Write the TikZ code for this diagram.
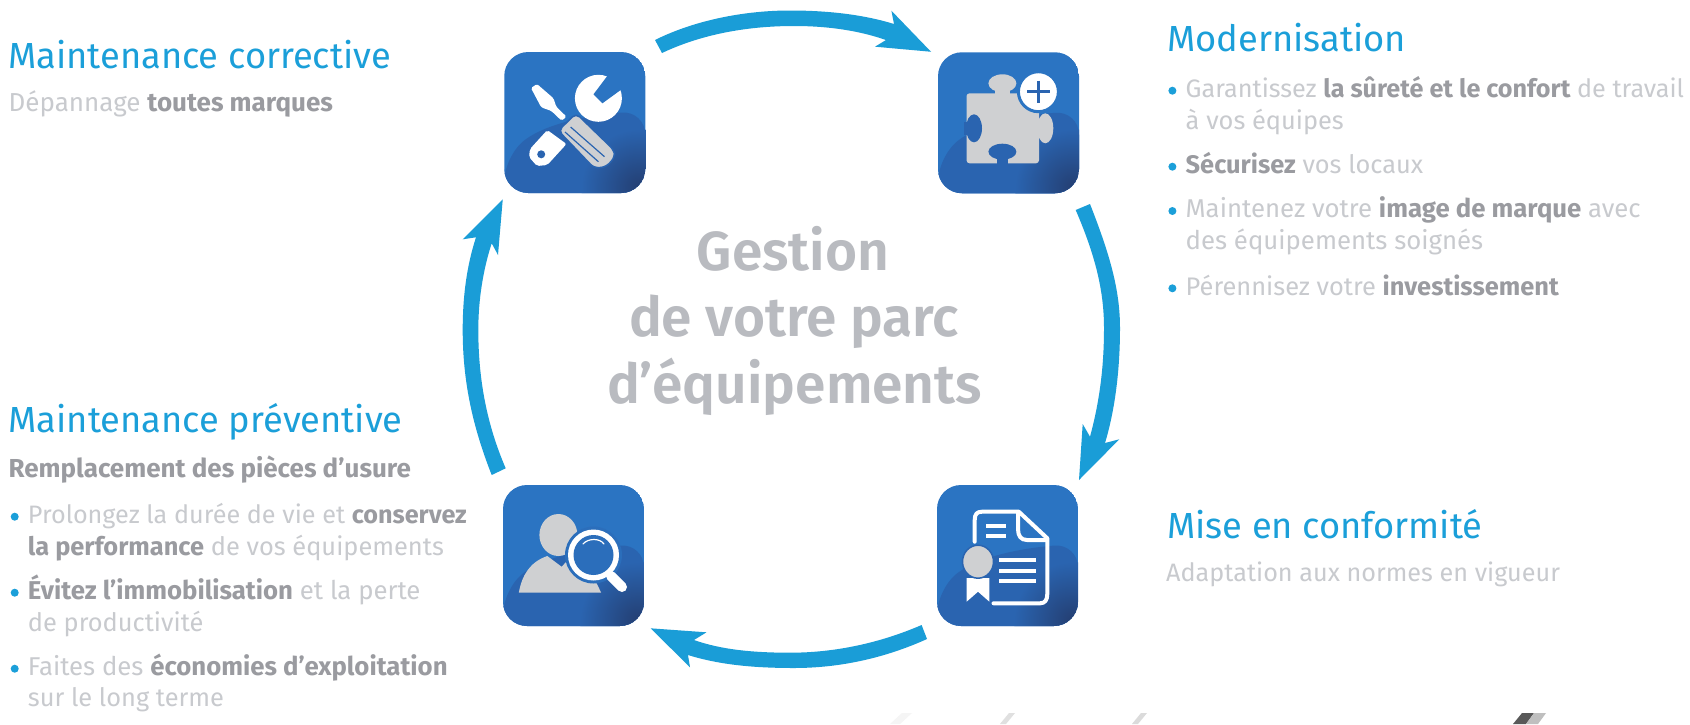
\documentclass[tikz,border=0pt]{standalone}
\usepackage{fontspec}
\setmainfont{Fira Sans}
\newfontfamily\centerfont{Fira Sans SemiBold}
\usetikzlibrary{calc}
\definecolor{cyanT}{HTML}{1B9FD9}
\definecolor{arrowC}{HTML}{1A9DD7}
\definecolor{lightT}{HTML}{C8CACE}
\definecolor{boldT}{HTML}{9A9BA0}
\definecolor{centerT}{HTML}{B9BBC0}
\definecolor{boxTop}{HTML}{2B74C2}
\definecolor{boxLow}{HTML}{2A64B0}
\definecolor{boxDark}{HTML}{243F73}
\definecolor{puzzleG}{HTML}{CFD0D2}
\newcommand{\LT}[1]{{\color{lightT}#1}}
\newcommand{\BT}[1]{{\color{boldT}\bfseries #1}}
\tikzset{
  iconbox/.style={rectangle,rounded corners=24pt,minimum width=141pt,minimum height=141pt,inner sep=0pt,
    path picture={
      \fill[boxTop] (path picture bounding box.south west) rectangle (path picture bounding box.north east);
      \fill[boxLow] ([shift={(0,35)}]path picture bounding box.west)
        .. controls +(35,-30) and +(-70,6) .. ([shift={(0,-12)}]path picture bounding box.east)
        -- (path picture bounding box.south east) -- (path picture bounding box.south west) -- cycle;
      \shade[inner color=boxDark,outer color=boxLow] (path picture bounding box.south east) ++(-6,-6) circle[radius=58pt];
    }},
  arrowfill/.style={fill=arrowC,draw=none},
  title/.style={anchor=base west,inner sep=0pt,text=cyanT,font=\fontsize{36.3}{40}\selectfont},
  body/.style={anchor=base west,inner sep=0pt,text=lightT,font=\fontsize{25.4}{30}\selectfont},
  bodyb/.style={anchor=base west,inner sep=0pt,text=lightT,font=\fontsize{25.2}{30}\selectfont},
  bodyc/.style={anchor=base west,inner sep=0pt,text=boldT,font=\fontsize{26}{30}\selectfont},
  bodyd/.style={anchor=base west,inner sep=0pt,text=lightT,font=\fontsize{25.75}{30}\selectfont},
  centre/.style={anchor=base,inner sep=0pt,text=centerT,font=\fontsize{55}{66}\centerfont},
  bulletdot/.style={circle,fill=cyanT,inner sep=0pt,minimum size=8pt},
  white part/.style={fill=white,draw=none},
  gray part/.style={fill=puzzleG,draw=none},
  white line/.style={draw=white,line cap=round,line join=round}
}
\begin{document}
\begin{tikzpicture}[x=1pt,y=-1pt]
\useasboundingbox (0,0) rectangle (1690,724);
\fill[white] (0,0) rectangle (1690,724);
% faint streaks at the lower edge
\fill[black!4] (902,713) -- (912,713) -- (900,724) -- (890,724) -- cycle;
\fill[black!12] (1009,713) -- (1015,713) -- (1006,724) -- (1000,724) -- cycle;
\fill[black!14] (1141,713) -- (1147,713) -- (1138,724) -- (1132,724) -- cycle;
\fill[black!65] (1522,713) -- (1534,713) -- (1526,724) -- (1513,724) -- cycle;
\fill[black!25] (1534,713) -- (1546,713) -- (1538,724) -- (1526,724) -- cycle;
% boxes
\node[iconbox] (b1) at (574.75,122.5) {};
\node[iconbox] (b2) at (1008.5,122.75) {};
\node[iconbox] (b3) at (573.5,555.5) {};
\node[iconbox] (b4) at (1007.5,555.5) {};
% arrows
\fill[arrowfill] ([shift={(80.25,-82.5)}]b1.center) .. controls (695,20) and (745,10.5) .. (790,10.5)
  .. controls (830,10.5) and (865,15) .. (894,24) -- (891.4,10.7) -- ([shift={(-77.5,-71)}]b2.center)
  -- (875,46.7) -- (886,40) .. controls (860,31) and (830,26) .. (794,26)
  .. controls (745,26) and (700,35) .. ([shift={(87.25,-69.5)}]b1.center) -- cycle;
\fill[arrowfill] ([shift={(81.5,81.25)}]b2.center) .. controls (1110,255) and (1120,290) .. (1120,328)
  .. controls (1120,370) and (1115,410) .. (1105,443) -- (1119.3,439.3) -- ([shift={(71.5,-75.5)}]b4.center)
  -- (1082.7,424) -- (1090,436.7) .. controls (1100,400) and (1104,365) .. (1104,328)
  .. controls (1104,290) and (1095,255) .. ([shift={(67.2,87.25)}]b2.center) -- cycle;
\fill[arrowfill] ([shift={(-85.9,69.5)}]b4.center) .. controls (880,643) and (835,652.7) .. (790,652.7)
  .. controls (755,652.7) and (722,650) .. (694,640) -- (706.5,632.3) -- ([shift={(77.1,72.8)}]b3.center)
  -- (690,667.3) -- (688,655) .. controls (720,665) and (755,668) .. (794,668)
  .. controls (840,668) and (885,658) .. ([shift={(-80.5,83.5)}]b4.center) -- cycle;
\fill[arrowfill] ([shift={(-81.8,-80.5)}]b3.center) .. controls (472,425) and (462.7,380) .. (462.7,330)
  .. controls (462.7,295) and (467,265) .. (476,237.3) -- (462.7,239.3) -- ([shift={(-72,76.8)}]b1.center)
  -- (498,255) -- (491.7,243.3) .. controls (483,270) and (478.3,300) .. (478.3,330)
  .. controls (478.3,380) and (487,425) .. ([shift={(-67.8,-87.2)}]b3.center) -- cycle;
% icon 1: tools
\fill[white part] (598.4,98.3) circle[radius=23.5];
\fill[boxTop] (607.3,76) -- (593.5,94.3) -- (602.4,103.3) -- (623,88.3) -- (623,73) -- cycle;
\fill[white part,rounded corners=2pt] (547.3,130) -- (566.5,144) -- (547.3,165) -- (537,166) -- (529,157) -- (530,149) -- cycle;
\fill[boxLow] (541.2,154.3) circle[radius=4];
\fill[white part,rounded corners=1.5pt] (531,88) -- (537,84) -- (553.5,98.3) -- (556.3,106.7) -- (566.5,116.7) -- (561.6,120.7) -- (551.4,111) -- (541.2,107.3) -- cycle;
\draw[boxLow,line width=1.5pt,fill=puzzleG,rounded corners=5pt] (576,113.3) -- (558.4,130.7) -- (594,168) -- (606,167) -- (615,157) -- (613.9,150) -- cycle;
\draw[boxLow,line width=1.2pt] (570.6,127) -- (604.5,156.7) (565,132) -- (598.4,161.7);
% icon 2: puzzle
\fill[gray part,rounded corners=3pt] (966.5,93.3) -- (1039,93.3) -- (1039,163.3) -- (966.5,163.3) -- cycle;
\fill[gray part] (1002.4,83.3) ellipse[x radius=14,y radius=9];
\fill[gray part] (995,88) rectangle (1010,96);
\fill[gray part] (1045.3,128.3) ellipse[x radius=8,y radius=15];
\fill[gray part] (1036,122) rectangle (1044,135);
\fill[boxLow] (974,128.3) ellipse[x radius=8,y radius=14];
\fill[boxLow] (964,122) rectangle (972,135);
\fill[boxLow] (1002.4,151.7) ellipse[x radius=14,y radius=8];
\fill[boxLow] (997,155) rectangle (1008,165);
\draw[boxTop,line width=3pt,fill=white] (1038.4,91.7) circle[radius=20];
\draw[boxLow,line width=3pt] (1027,91.7) -- (1049.5,91.7) (1038.4,80.5) -- (1038.4,103);
% icon 3: person and magnifier
\fill[gray part] (558.4,535) ellipse[x radius=19,y radius=21];
\fill[gray part] (518.8,592.7) .. controls (522,575) and (530,562) .. (547.3,556) -- (561.6,566.7) -- (572,556) -- (590,570) -- (601.2,592.7) -- cycle;
\fill[boxTop!60!boxLow] (593.5,555) circle[radius=28.5];
\fill[white part] (593.5,555) circle[radius=25.5];
\fill[boxTop!60!boxLow] (593.5,555) circle[radius=20];
\draw[white line,line width=10pt] (611,576) -- (622,587);
\draw[white line,line width=1.2pt] (583,544) .. controls (588,538) and (600,538) .. (604,544);
% icon 4: document
\draw[white line,line width=4pt] (974.7,541.7) -- (974.7,520) .. controls (974.7,514) and (977,511.7) .. (982,511.7) -- (1018.8,511.7) -- (1047.3,538.3) -- (1047.3,594)
  .. controls (1047.3,600) and (1045,603.3) .. (1040,603.3) -- (993.5,603.3);
\draw[white line,line width=4pt] (1018,513.3) -- (1018,529) .. controls (1018,536) and (1021,540) .. (1027,540) -- (1047,540);
\draw[white,line width=4pt] (986,526) -- (1005.7,526) (986,536) -- (1005.7,536);
\draw[white,line width=4pt] (999,560) -- (1036,560) (999,570.7) -- (1036,570.7) (999,580.7) -- (1036,580.7);
\fill[white part] (966.6,578) -- (966.6,601.7) -- (978,591.7) -- (989.4,601.7) -- (989.4,578) -- cycle;
\draw[boxLow,line width=1.5pt,fill=puzzleG] (978,561.7) ellipse[x radius=15.5,y radius=16.5];
% centre
\node[centre] (c1) at (793,270) {Gestion};
\node[centre] (c2) at (794,336.7) {de votre parc};
\node[centre] (c3) at (794.5,403) {d’équipements};
% top left
\node[title] (t1) at (8,68) {Maintenance corrective};
\node[bodyc] (t1a) at (8.5,111.7) {\LT{Dépannage} \BT{toutes marques}};
% bottom left
\node[title] (t3) at (8.5,432.7) {Maintenance préventive};
\node[bodyc,font=\fontsize{26}{30}\selectfont\bfseries] (t3a) at (8.5,477) {Remplacement des pièces d’usure};
\node[bulletdot] (d1) at (14.7,516.7) {};
\node[bodyb] (l1) at (27.7,523.3) {\LT{Prolongez la durée de vie et} \BT{conservez}};
\node[body] (l2) at (27.7,555) {\BT{la performance} \LT{de vos équipements}};
\node[bulletdot] (d2) at (14.7,592.7) {};
\node[bodyd] (l3) at (27.7,599.3) {\BT{Évitez l’immobilisation} \LT{et la perte}};
\node[body] (l4) at (27.7,631.7) {\LT{de productivité}};
\node[bulletdot] (d3) at (14.7,668.7) {};
\node[bodyd] (l5) at (27.7,675) {\LT{Faites des} \BT{économies d’exploitation}};
\node[body] (l6) at (27.7,706.7) {\LT{sur le long terme}};
% top right
\node[title] (t2) at (1167,51.7) {Modernisation};
\node[bulletdot] (e1) at (1172.4,90.7) {};
\node[bodyb] (m1) at (1185.5,97.3) {\LT{Garantissez} \BT{la sûreté et le confort} \LT{de travail}};
\node[body] (m2) at (1185.5,129.3) {\LT{à vos équipes}};
\node[bulletdot] (e2) at (1172.4,166.7) {};
\node[body] (m3) at (1185.5,173.3) {\BT{Sécurisez} \LT{vos locaux}};
\node[bulletdot] (e3) at (1172.4,211) {};
\node[bodyd] (m4) at (1185.5,217.3) {\LT{Maintenez votre} \BT{image de marque} \LT{avec}};
\node[bodyd] (m5) at (1185.5,249.3) {\LT{des équipements soignés}};
\node[bulletdot] (e4) at (1172.4,288.3) {};
\node[body] (m6) at (1185.5,295) {\LT{Pérennisez votre} \BT{investissement}};
% bottom right
\node[title] (t4) at (1167,538) {Mise en conformité};
\node[bodyb] (t4a) at (1166,581.7) {\LT{Adaptation aux normes en vigueur}};
\end{tikzpicture}
\end{document}
